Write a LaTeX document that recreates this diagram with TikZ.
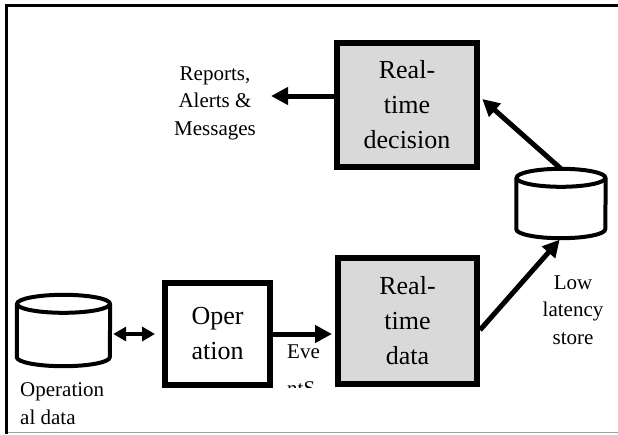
\documentclass[tikz,border=0pt]{standalone}
\usepackage{fontspec}
\setmainfont{Liberation Serif}
\usetikzlibrary{arrows.meta}
\definecolor{boxgray}{HTML}{D9D9D9}
\definecolor{rulegray}{HTML}{A0A0A0}

% cylinder outline drawn round a store node: #1 node name, #2 half width
\newcommand\drawstore[2]{%
  \draw[storeline] ([yshift=-9pt]#1.north) ellipse [x radius=#2, y radius=9pt];
  \draw[storeline] ([yshift=-9pt]#1.north west) -- ([yshift=9pt]#1.south west)
    arc [start angle=180, end angle=360, x radius=#2, y radius=9pt]
    -- ([yshift=-9pt]#1.north east);
}

\begin{document}
\begin{tikzpicture}[x=1pt, y=-1pt,
  box/.style={draw, line width=6pt, inner sep=0pt, align=center,
    font=\fontsize{26}{35}\selectfont},
  hot/.style={box, fill=boxgray},
  lbl/.style={inner sep=0pt, align=center, font=\fontsize{21}{27.5}\selectfont},
  store/.style={inner sep=0pt},
  storeline/.style={line width=4pt, line join=round},
  arr/.style={line width=5pt, -{Triangle[length=17pt, width=17pt]}},
  dbl/.style={line width=4pt,
    {Triangle[length=13pt, width=14pt]}-{Triangle[length=13pt, width=14pt]}}]
\useasboundingbox (0,0) rectangle (618,434);

% page frame
\draw[line width=3.5pt] (618,5.5) -- (6.5,5.5) -- (6.5,434);
\draw[rulegray, line width=1pt] (8,432) -- (618,432);

% boxes
\node[hot, minimum width=140pt, minimum height=124pt] (dec) at (407,105) {Real-\\time\\decision};
\node[hot, minimum width=139pt, minimum height=126pt] (rt) at (407.5,321) {Real-\\time\\data};
\node[box, minimum width=105pt, minimum height=102pt] (op) at (217.5,334) {Oper\\ation};

% data stores
\node[store, minimum width=93pt, minimum height=71pt] (opdb) at (63.5,330.5) {};
\drawstore{opdb}{46.5pt}
\node[store, minimum width=89pt, minimum height=69pt] (ls) at (561,203.5) {};
\drawstore{ls}{44.5pt}

% labels
\node[lbl, inner xsep=15pt] (rep) at (215,103) {Reports,\\Alerts \&\\Messages};
\node[lbl, align=left, anchor=west] (opdbl) at (20,403.5) {Operation\\al data};
\node[lbl] (lsl) at (573,310) {Low\\latency\\store};
\begin{scope}
  \clip (280,336) rectangle (340,387);
  \node[lbl, align=left, anchor=north west, font=\fontsize{21}{37}\selectfont]
    (evl) at (287,345) {Eve\\ntS};
\end{scope}

% connectors
\draw[dbl, shorten <=3pt, shorten >=7pt] (opdb.east |- op.west) -- (op.west);
\draw[arr, shorten >=3pt] (op.east) -- (op.east -| rt.west);
\draw[arr, shorten >=2pt] ([yshift=-9pt]rt.east) -- (ls.south);
\draw[arr, shorten >=3pt] (ls.north) -- ([yshift=8pt]dec.east);
\draw[arr] ([yshift=9pt]dec.west) -- ([yshift=9pt]dec.west -| rep.east);
\end{tikzpicture}
\end{document}
